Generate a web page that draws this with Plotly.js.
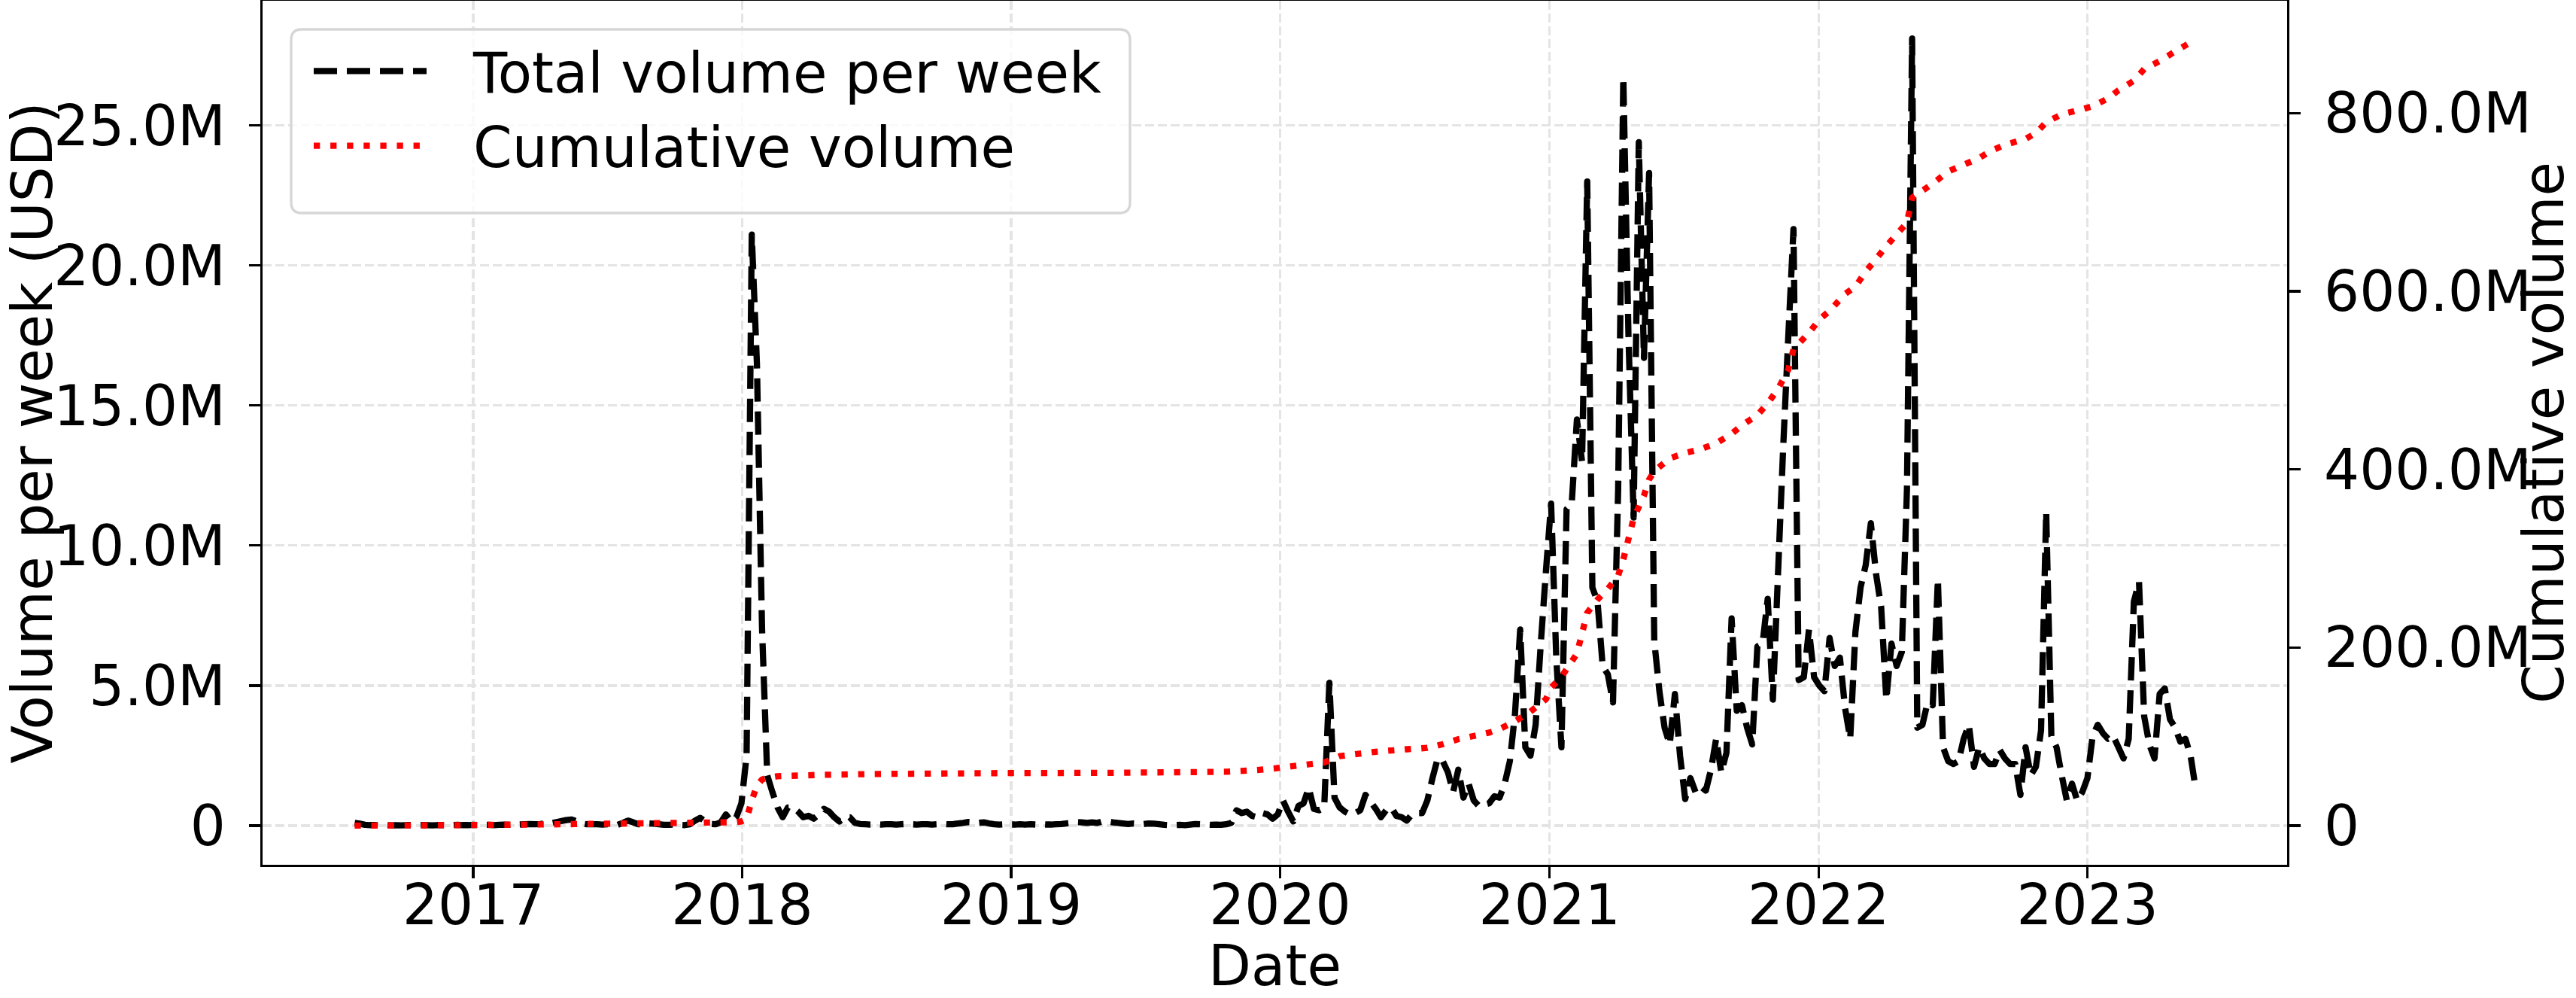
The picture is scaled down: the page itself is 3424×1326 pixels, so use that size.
<!DOCTYPE html>
<html><head><meta charset="utf-8">
<script src="https://cdn.plot.ly/plotly-3.0.1.min.js"></script>
<style>
html,body{margin:0;padding:0;background:#fff;}
#chart{width:3424px;height:1326px;}
.js-line{stroke-linejoin:round !important;}
</style>
</head><body><div id="chart"></div>
<script>
// ---- data (values in millions of USD) ----
const startDate = '2016-07-24';
const weeklyVolumeM = [
0.10,0.07,0.03,0.02,0.02,0.01,0.02,0.01,0.02,0.01,
0.02,0.02,0.01,0.02,0.02,0.01,0.02,0.02,0.01,0.02,
0.03,0.02,0.02,0.03,0.02,0.03,0.03,0.02,0.03,0.04,
0.03,0.05,0.04,0.05,0.06,0.05,0.06,0.08,0.08,0.12,
0.16,0.20,0.22,0.16,0.08,0.05,0.05,0.05,0.04,0.05,
0.05,0.03,0.10,0.18,0.12,0.05,0.06,0.08,0.07,0.05,
0.03,0.03,0.04,0.03,0.02,0.05,0.18,0.28,0.15,0.06,
0.05,0.12,0.40,0.15,0.30,0.80,2.5,21.1,16.5,7.0,
1.8,1.2,0.65,0.30,0.65,0.65,0.50,0.30,0.35,0.25,
0.40,0.60,0.50,0.30,0.15,0.30,0.30,0.10,0.06,0.05,
0.04,0.05,0.04,0.05,0.05,0.04,0.05,0.06,0.05,0.04,
0.05,0.05,0.04,0.05,0.06,0.05,0.05,0.08,0.10,0.13,
0.12,0.10,0.12,0.08,0.05,0.04,0.05,0.04,0.04,0.05,
0.04,0.05,0.04,0.05,0.04,0.04,0.05,0.06,0.08,0.10,
0.13,0.12,0.10,0.12,0.10,0.15,0.15,0.12,0.10,0.08,
0.06,0.08,0.07,0.06,0.08,0.07,0.05,0.03,0.02,0.02,
0.03,0.02,0.04,0.06,0.05,0.04,0.03,0.04,0.03,0.05,
0.10,0.55,0.45,0.50,0.35,0.30,0.45,0.40,0.25,0.40,
0.90,0.50,0.15,0.70,0.80,1.35,0.60,0.55,0.65,5.1,
1.0,0.65,0.50,0.40,0.45,0.55,1.1,0.85,0.60,0.30,
0.55,0.65,0.35,0.30,0.18,0.40,0.45,0.45,0.90,1.7,
2.4,2.3,1.9,1.2,2.0,1.0,1.5,0.90,0.70,0.75,
0.80,1.05,1.0,1.5,2.3,4.0,7.0,2.8,2.5,3.6,
6.5,9.1,11.5,6.0,2.8,11.3,11.5,14.5,13.0,23.0,
8.5,8.0,5.7,5.4,4.4,12.0,26.7,17.5,11.0,24.4,
16.7,23.3,6.6,4.8,3.5,2.9,4.7,2.5,0.95,1.7,
1.2,1.4,1.25,2.0,3.1,1.9,2.6,7.4,4.1,4.3,
3.5,2.9,6.4,6.5,8.1,4.5,9.0,13.5,17.5,21.3,
5.2,5.3,7.0,5.3,5.0,4.8,6.7,5.7,6.0,4.2,
3.1,6.9,8.5,9.3,10.8,9.0,7.8,4.5,6.5,5.7,
6.2,12.0,28.1,3.5,3.6,4.4,4.3,8.8,2.8,2.3,
2.2,2.3,3.1,3.6,2.1,2.8,2.4,2.2,2.2,2.7,
2.4,2.2,2.2,1.1,2.8,1.8,2.1,3.4,11.2,3.2,
2.8,1.8,0.9,1.5,0.9,1.2,1.7,3.2,3.6,3.3,
3.1,3.2,2.8,2.4,3.1,8.0,8.7,3.9,2.9,2.4,
4.7,4.9,3.8,3.5,3.0,3.1,2.5,1.3
];
const cumWeekIndex = [0,20,40,60,74,75,76,77,78,79,80,82,90,100,125,146,169,175,179,185,188,191,198,204,208,211,214,216,220,222,225,228,231,232,234,237,239,241,243,245,246,248,250,251,252,255,258,261,264,267,269,272,274,276,278,279,282,284,286,289,291,293,295,297,299,301,302,303,306,309,312,315,317,320,324,326,328,331,334,337,340,342,345,347,350,353,356,357];
const cumVolumeM = [0.1,0.6,1.6,2.9,4.0,4.8,7.3,28.4,44.9,51.9,53.7,55.5,57.0,58.0,59.0,59.3,60.5,62.4,64.7,68.9,71.0,78.0,83.0,85.8,87.3,91.5,97.1,99.5,104.5,108.5,117.0,128.1,142.0,155.0,167.0,193.0,239.0,253.9,265.8,280.8,298.8,345.0,370.6,388.6,398.0,412.4,418.4,422.7,429.2,440.0,449.5,461.0,474.1,490.3,512.0,535.0,553.1,568.1,578.0,597.0,605.2,622.0,636.0,650.7,663.8,677.0,705.0,709.0,720.7,734.5,742.0,749.5,756.7,764.4,771.0,777.6,789.6,798.6,802.8,807.6,816.5,825.5,836.3,849.4,858.4,869.2,879.4,880.7];
const yearTickDates = ['2017-01-01','2018-01-01','2019-01-01','2020-01-01','2021-01-01','2022-01-01','2023-01-01'];
const yearTickLabels = ['2017','2018','2019','2020','2021','2022','2023'];
const leftTickVals = [0,5,10,15,20,25];
const leftTickText = ['0','5.0M','10.0M','15.0M','20.0M','25.0M'];
const rightTickVals = [0,200,400,600,800];
const rightTickText = ['0','200.0M','400.0M','600.0M','800.0M'];

// ---- helpers ----
const DAY = 86400000;
const t0 = Date.parse(startDate + 'T00:00:00Z');
function weekToDate(i){ return new Date(t0 + i*7*DAY).toISOString().slice(0,10); }
const weekDates = weeklyVolumeM.map((_, i) => weekToDate(i));
const cumDates = cumWeekIndex.map(weekToDate);

const W = 3424, H = 1326;
const M = {l:349, r:384, t:1, b:177};
const plotW = W - M.l - M.r, plotH = H - M.t - M.b;
const px2x = p => (p - M.l) / plotW;
const px2y = p => (M.t + plotH - p) / plotH;

// rounded legend frame
const bx = {x0:387, x1:1502, y0:39, y1:283, r:14};
function roundRect(b){
  const X = px2x, Y = px2y, r = b.r;
  return 'M ' + X(b.x0+r) + ' ' + Y(b.y0) +
    ' L ' + X(b.x1-r) + ' ' + Y(b.y0) +
    ' Q ' + X(b.x1) + ' ' + Y(b.y0) + ' ' + X(b.x1) + ' ' + Y(b.y0+r) +
    ' L ' + X(b.x1) + ' ' + Y(b.y1-r) +
    ' Q ' + X(b.x1) + ' ' + Y(b.y1) + ' ' + X(b.x1-r) + ' ' + Y(b.y1) +
    ' L ' + X(b.x0+r) + ' ' + Y(b.y1) +
    ' Q ' + X(b.x0) + ' ' + Y(b.y1) + ' ' + X(b.x0) + ' ' + Y(b.y1-r) +
    ' L ' + X(b.x0) + ' ' + Y(b.y0+r) +
    ' Q ' + X(b.x0) + ' ' + Y(b.y0) + ' ' + X(b.x0+r) + ' ' + Y(b.y0) + ' Z';
}

const FONT = 'DejaVu Sans';
const FS = 74;
const gridColor = '#e4e4e4';

const traces = [
  {type:'scatter', mode:'lines', name:'Total volume per week', x:weekDates, y:weeklyVolumeM, yaxis:'y',
   line:{color:'#000000', width:8.3, dash:'31px,13px', simplify:false}, legendgroup:'a', hoverinfo:'skip'},
  {type:'scatter', mode:'lines', name:'Cumulative volume', x:cumDates, y:cumVolumeM, yaxis:'y2',
   line:{color:'#ff0000', width:8.3, dash:'8.3px,13.8px', simplify:false}, legendgroup:'b', hoverinfo:'skip'}
];

const axisCommon = {
  ticks:'outside', ticklen:15, tickwidth:3.3, tickcolor:'#000',
  showline:true, linewidth:3.3, linecolor:'#000',
  zeroline:false, tickfont:{family:FONT, size:FS, color:'#000'}
};

const layout = {
  width:W, height:H, margin:{l:M.l, r:M.r, t:M.t, b:M.b, pad:0},
  paper_bgcolor:'#ffffff', plot_bgcolor:'#ffffff',
  font:{family:FONT, size:FS, color:'#000'},
  showlegend:true,
  xaxis:Object.assign({}, axisCommon, {
    type:'date', range:['2016-03-21','2023-09-29'],
    tickmode:'array', tickvals:yearTickDates, ticktext:yearTickLabels,
    mirror:true, showgrid:true, gridcolor:gridColor, gridwidth:3.3, griddash:'12px,5px',
    ticklabelstandoff:-28,
    title:{text:'Date', font:{family:FONT, size:FS, color:'#000'}, standoff:72}
  }),
  yaxis:Object.assign({}, axisCommon, {
    range:[-1.397, 29.45], tickmode:'array', tickvals:leftTickVals, ticktext:leftTickText,
    showgrid:true, gridcolor:gridColor, gridwidth:3.3, griddash:'12px,5px',
    ticklabelstandoff:16,
    title:{text:'Volume per week (USD)', font:{family:FONT, size:FS, color:'#000'}, standoff:20}
  }),
  yaxis2:Object.assign({}, axisCommon, {
    overlaying:'y', side:'right', anchor:'x',
    range:[-43.9, 926.1], tickmode:'array', tickvals:rightTickVals, ticktext:rightTickText,
    showgrid:false, ticklabelstandoff:16,
    title:{text:'Cumulative volume', font:{family:FONT, size:FS, color:'#000'}, standoff:29}
  }),
  legend:{
    x:px2x(392), y:px2y(39.75), xanchor:'left', yanchor:'top',
    bgcolor:'rgba(0,0,0,0)', borderwidth:0, itemwidth:227, tracegroupgap:21.5,
    font:{family:FONT, size:FS, color:'#000'}, traceorder:'normal'
  },
  shapes:[{type:'path', xref:'paper', yref:'paper', layer:'above', path:roundRect(bx),
    fillcolor:'rgba(255,255,255,0.8)', line:{color:'#d6d6d6', width:3.3}}]
};

Plotly.newPlot('chart', traces, layout, {staticPlot:true, displayModeBar:false}).then(function(gd){
  gd.querySelectorAll('.legend .traces').forEach(function(tr){
    tr.querySelectorAll('.legendlines path').forEach(function(p){ p.setAttribute('d','M25,0h150'); });
  });
});
</script>
</body></html>
